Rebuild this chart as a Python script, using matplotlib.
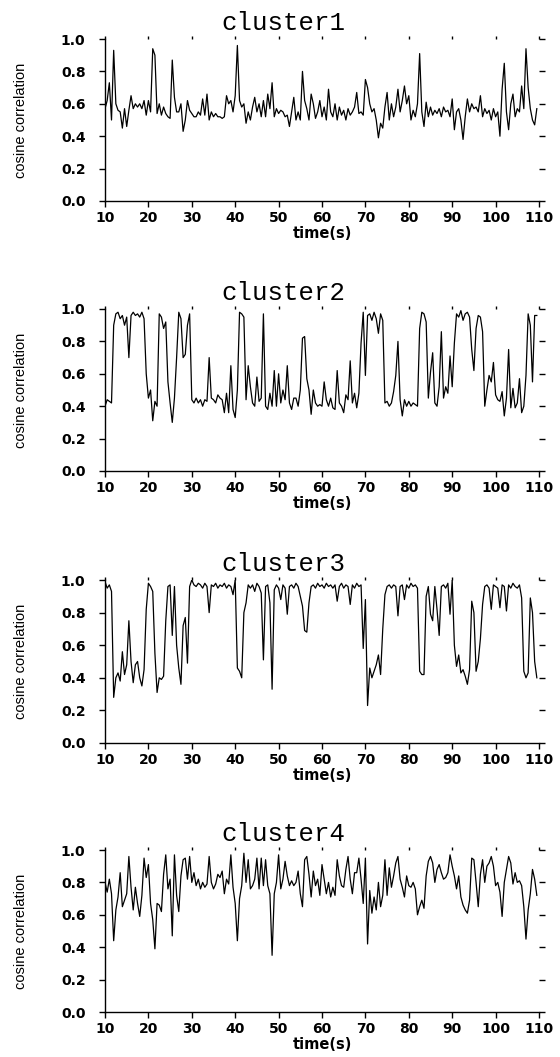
import numpy as np
import matplotlib
matplotlib.use("Agg")
import matplotlib.pyplot as plt

# correlacion coseno de cada cluster, una muestra cada 0.5 s desde t = 10 s
t0 = 10.0
dt = 0.5

cluster1 = [
    0.57, 0.62, 0.73, 0.50, 0.93, 0.60, 0.56, 0.55, 0.45, 0.57, 0.46, 0.56, 0.65, 0.57, 0.60, 0.58, 0.60, 0.57, 0.62, 0.53,
    0.62, 0.55, 0.94, 0.90, 0.54, 0.60, 0.53, 0.58, 0.54, 0.52, 0.51, 0.87, 0.64, 0.55, 0.55, 0.60, 0.43, 0.50, 0.62, 0.56,
    0.54, 0.52, 0.52, 0.55, 0.53, 0.63, 0.53, 0.66, 0.50, 0.55, 0.52, 0.54, 0.52, 0.52, 0.51, 0.52, 0.65, 0.60, 0.62, 0.55,
    0.65, 0.96, 0.62, 0.58, 0.60, 0.48, 0.55, 0.50, 0.58, 0.64, 0.55, 0.60, 0.52, 0.62, 0.52, 0.66, 0.57, 0.73, 0.52, 0.57,
    0.54, 0.56, 0.55, 0.52, 0.53, 0.46, 0.55, 0.64, 0.50, 0.55, 0.50, 0.80, 0.62, 0.57, 0.50, 0.66, 0.60, 0.51, 0.55, 0.62,
    0.52, 0.58, 0.50, 0.69, 0.55, 0.52, 0.60, 0.50, 0.58, 0.53, 0.56, 0.50, 0.57, 0.53, 0.55, 0.58, 0.67, 0.54, 0.55, 0.53,
    0.75, 0.70, 0.60, 0.55, 0.57, 0.50, 0.39, 0.48, 0.45, 0.58, 0.67, 0.50, 0.60, 0.52, 0.58, 0.69, 0.55, 0.62, 0.71, 0.60,
    0.65, 0.50, 0.56, 0.52, 0.60, 0.91, 0.55, 0.46, 0.61, 0.52, 0.58, 0.53, 0.56, 0.54, 0.57, 0.52, 0.58, 0.55, 0.56, 0.52,
    0.63, 0.44, 0.55, 0.57, 0.50, 0.38, 0.52, 0.63, 0.55, 0.60, 0.57, 0.58, 0.55, 0.65, 0.52, 0.57, 0.54, 0.56, 0.50, 0.57,
    0.52, 0.55, 0.40, 0.69, 0.85, 0.55, 0.44, 0.60, 0.66, 0.52, 0.57, 0.55, 0.71, 0.57, 0.94, 0.70, 0.57, 0.50, 0.47, 0.57,
]

cluster2 = [
    0.40, 0.44, 0.43, 0.42, 0.90, 0.97, 0.98, 0.94, 0.96, 0.90, 0.95, 0.70, 0.96, 0.98, 0.96, 0.97, 0.95, 0.98, 0.94, 0.60,
    0.45, 0.50, 0.31, 0.43, 0.40, 0.97, 0.95, 0.88, 0.92, 0.55, 0.42, 0.30, 0.45, 0.70, 0.98, 0.94, 0.70, 0.72, 0.90, 0.97,
    0.44, 0.42, 0.45, 0.42, 0.44, 0.40, 0.44, 0.43, 0.70, 0.45, 0.44, 0.42, 0.47, 0.45, 0.44, 0.36, 0.48, 0.36, 0.65, 0.38,
    0.33, 0.50, 0.98, 0.97, 0.95, 0.44, 0.65, 0.52, 0.42, 0.40, 0.58, 0.43, 0.45, 0.97, 0.40, 0.38, 0.48, 0.40, 0.62, 0.40,
    0.60, 0.42, 0.50, 0.44, 0.65, 0.42, 0.38, 0.45, 0.45, 0.40, 0.50, 0.82, 0.83, 0.57, 0.50, 0.35, 0.50, 0.42, 0.40, 0.41,
    0.40, 0.55, 0.44, 0.40, 0.45, 0.39, 0.38, 0.62, 0.42, 0.40, 0.36, 0.47, 0.44, 0.68, 0.42, 0.48, 0.39, 0.48, 0.79, 0.98,
    0.59, 0.96, 0.97, 0.93, 0.98, 0.94, 0.85, 0.97, 0.93, 0.42, 0.43, 0.40, 0.42, 0.49, 0.59, 0.80, 0.44, 0.34, 0.44, 0.40,
    0.43, 0.40, 0.42, 0.41, 0.40, 0.88, 0.98, 0.97, 0.92, 0.45, 0.61, 0.73, 0.42, 0.40, 0.52, 0.86, 0.45, 0.52, 0.48, 0.71,
    0.52, 0.79, 0.97, 0.95, 0.99, 0.93, 0.97, 0.98, 0.95, 0.75, 0.62, 0.88, 0.96, 0.95, 0.86, 0.40, 0.50, 0.59, 0.55, 0.67,
    0.47, 0.44, 0.43, 0.49, 0.34, 0.45, 0.75, 0.39, 0.51, 0.39, 0.42, 0.57, 0.36, 0.40, 0.59, 0.97, 0.90, 0.55, 0.96, 0.96,
]

cluster3 = [
    0.99, 0.95, 0.97, 0.93, 0.28, 0.40, 0.43, 0.38, 0.56, 0.42, 0.48, 0.75, 0.50, 0.37, 0.48, 0.50, 0.40, 0.35, 0.45, 0.82,
    0.98, 0.96, 0.93, 0.55, 0.31, 0.40, 0.39, 0.41, 0.75, 0.96, 0.97, 0.66, 0.96, 0.60, 0.46, 0.36, 0.72, 0.77, 0.49, 0.96,
    1.00, 0.97, 0.96, 0.98, 0.97, 0.95, 0.98, 0.96, 0.80, 0.97, 0.96, 0.98, 0.95, 0.97, 0.96, 0.98, 0.95, 0.97, 0.96, 0.91,
    1.00, 0.46, 0.44, 0.40, 0.80, 0.86, 0.97, 0.95, 0.97, 0.93, 0.98, 0.96, 0.92, 0.51, 0.96, 0.97, 0.86, 0.33, 0.94, 0.97,
    0.95, 0.88, 0.97, 0.95, 0.79, 0.96, 0.97, 0.95, 0.98, 0.96, 0.90, 0.84, 0.69, 0.68, 0.86, 0.96, 0.97, 0.95, 0.98, 0.96,
    0.97, 0.95, 0.98, 0.96, 0.97, 0.95, 0.97, 0.87, 0.96, 0.98, 0.95, 0.97, 0.96, 0.85, 0.97, 0.95, 0.98, 0.96, 0.97, 0.58,
    0.88, 0.23, 0.46, 0.40, 0.44, 0.48, 0.54, 0.42, 0.70, 0.91, 0.96, 0.97, 0.95, 0.97, 0.96, 0.78, 0.96, 0.97, 0.88, 0.97,
    0.95, 0.98, 0.96, 0.97, 0.95, 0.44, 0.42, 0.42, 0.90, 0.96, 0.79, 0.75, 0.96, 0.82, 0.66, 0.96, 0.97, 0.95, 0.98, 0.79,
    1.00, 0.60, 0.47, 0.54, 0.43, 0.45, 0.41, 0.36, 0.45, 0.87, 0.80, 0.44, 0.50, 0.64, 0.85, 0.96, 0.97, 0.95, 0.82, 0.97,
    0.96, 0.95, 0.83, 0.97, 0.96, 0.81, 0.97, 0.95, 0.98, 0.96, 0.95, 0.97, 0.89, 0.44, 0.40, 0.43, 0.89, 0.80, 0.50, 0.40,
]

cluster4 = [
    0.80, 0.74, 0.82, 0.73, 0.44, 0.63, 0.71, 0.86, 0.65, 0.69, 0.73, 0.96, 0.77, 0.63, 0.77, 0.67, 0.59, 0.72, 0.95, 0.83,
    0.91, 0.67, 0.57, 0.39, 0.67, 0.66, 0.62, 0.85, 0.97, 0.76, 0.82, 0.47, 0.97, 0.72, 0.62, 0.84, 0.94, 0.95, 0.82, 0.96,
    0.80, 0.86, 0.78, 0.82, 0.76, 0.80, 0.77, 0.79, 0.96, 0.80, 0.76, 0.79, 0.85, 0.83, 0.87, 0.73, 0.82, 0.79, 0.97, 0.77,
    0.67, 0.44, 0.70, 0.78, 0.98, 0.80, 0.94, 0.76, 0.78, 0.82, 0.95, 0.76, 0.95, 0.78, 0.94, 0.78, 0.73, 0.35, 0.73, 0.80,
    0.97, 0.76, 0.82, 0.93, 0.84, 0.78, 0.81, 0.78, 0.80, 0.87, 0.73, 0.65, 0.94, 0.96, 0.85, 0.71, 0.87, 0.78, 0.82, 0.72,
    0.91, 0.82, 0.73, 0.80, 0.71, 0.77, 0.72, 0.94, 0.84, 0.78, 0.77, 0.88, 0.96, 0.82, 0.73, 0.86, 0.86, 0.95, 0.82, 0.67,
    0.95, 0.42, 0.75, 0.61, 0.71, 0.63, 0.80, 0.65, 0.72, 0.94, 0.72, 0.89, 0.77, 0.84, 0.92, 0.96, 0.82, 0.77, 0.71, 0.84,
    0.78, 0.77, 0.80, 0.76, 0.60, 0.65, 0.69, 0.64, 0.84, 0.93, 0.96, 0.92, 0.80, 0.88, 0.91, 0.86, 0.82, 0.83, 0.86, 0.97,
    0.90, 0.84, 0.76, 0.84, 0.71, 0.66, 0.63, 0.61, 0.69, 0.95, 0.94, 0.80, 0.65, 0.85, 0.94, 0.80, 0.90, 0.92, 0.96, 0.90,
    0.78, 0.80, 0.74, 0.59, 0.80, 0.88, 0.96, 0.92, 0.79, 0.86, 0.80, 0.81, 0.78, 0.65, 0.45, 0.63, 0.73, 0.88, 0.82, 0.72,
]

titles = ["cluster1", "cluster2", "cluster3", "cluster4"]
series = [cluster1, cluster2, cluster3, cluster4]

xticks = [10, 20, 30, 40, 50, 60, 70, 80, 90, 100, 110]
yticks = [0.0, 0.2, 0.4, 0.6, 0.8, 1.0]

W, H = 560, 1057
fig = plt.figure(figsize=(W / 100, H / 100), dpi=100)

# posicion de cada panel en pixeles (arriba = 1.0, abajo = 0.0)
left_px, right_px = 105, 539
tops_px = [39, 309, 580, 850]
bottoms_px = [201, 471, 743, 1012]

num_font = dict(family="DejaVu Sans", weight="bold", size=10)

for k in range(4):
    y = np.array(series[k])
    t = t0 + dt * np.arange(len(y))

    ax = fig.add_axes([left_px / W, 1 - bottoms_px[k] / H,
                       (right_px - left_px) / W, (bottoms_px[k] - tops_px[k]) / H])
    ax.plot(t, y, color="black", lw=0.9)

    ax.set_xlim(10, 110)
    ax.set_ylim(0, 1.0)
    ax.set_xticks(xticks)
    ax.set_yticks(yticks)
    ax.set_xticklabels([str(v) for v in xticks], fontdict=num_font)
    ax.set_yticklabels(["%.1f" % v for v in yticks], fontdict=num_font)

    # solo los ejes izquierdo e inferior, con marcas pequenas arriba y a la derecha
    ax.spines["top"].set_visible(False)
    ax.spines["right"].set_visible(False)
    ax.spines["left"].set_linewidth(1.0)
    ax.spines["bottom"].set_linewidth(1.0)
    ax.tick_params(axis="x", which="major", bottom=True, top=True, direction="out",
                   length=4, width=1.0, pad=3, labeltop=False)
    ax.tick_params(axis="y", which="major", left=True, right=True, direction="out",
                   length=4, width=1.0, pad=10, labelright=False)
    for tl in ax.xaxis.get_major_ticks():
        tl.tick2line.set_markersize(2)
    for tl in ax.yaxis.get_major_ticks():
        tl.tick2line.set_markersize(4)

    ax.set_xlabel("time(s)", fontdict=dict(family="DejaVu Sans", weight="bold", size=10.5),
                  labelpad=1)

    h_px = bottoms_px[k] - tops_px[k]
    ax.text(0.411, 1.0 + 16 / h_px, titles[k], transform=ax.transAxes,
            ha="center", va="center", family="Liberation Mono", fontsize=18.5)

    fig.text(21 / W, 1 - (tops_px[k] + bottoms_px[k]) / 2 / H, "cosine correlation",
             rotation=90, ha="center", va="center",
             family="Liberation Sans", fontsize=10.5)

fig.savefig("out.png", dpi=100)
